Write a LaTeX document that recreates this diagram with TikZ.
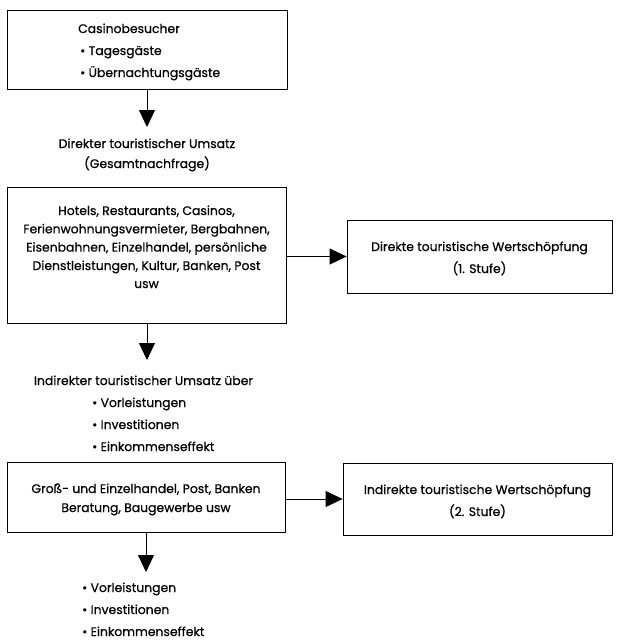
\documentclass[tikz,border=0pt]{standalone}
\usepackage{fontspec}
\setmainfont{Poppins}[FakeBold=0.6,UprightFeatures={FakeBold=0.6}]
\usetikzlibrary{arrows.meta}
\begin{document}
\begin{tikzpicture}[x=1pt,y=-1pt,
  box/.style={draw=black, line width=0.8pt, rectangle, inner sep=0pt},
  txt/.style={inner sep=0pt, font=\fontsize{12.4}{19}\selectfont},
  arr/.style={draw=black, line width=0.8pt, -{Triangle[width=16pt,length=17pt]}},
]
\useasboundingbox (0,0) rectangle (618,641);
% boxes
\node[box, minimum width=280pt, minimum height=79pt] (b1) at (147,49.5) {};
\node[box, minimum width=279pt, minimum height=136pt] (b2) at (146.5,255) {};
\node[box, minimum width=265pt, minimum height=73pt] (b3) at (479.5,256.5) {};
\node[box, minimum width=278pt, minimum height=70pt] (b4) at (146,497) {};
\node[box, minimum width=269pt, minimum height=72pt] (b5) at (477.5,499) {};
% box 1 text
\node[txt, anchor=base west] (t1a) at (78,33) {Casinobesucher};
\node[txt, anchor=base west] (t1b) at (80,55) {\textbullet\ Tagesgäste};
\node[txt, anchor=base west] (t1c) at (80,77) {\textbullet\ Übernachtungsgäste};
% label direct
\node[txt, anchor=base] (l1a) at (147,148) {Direkter touristischer Umsatz};
\node[txt, anchor=base] (l1b) at (147,168) {(Gesamtnachfrage)};
% box 2 text
\node[txt, anchor=base] (t2a) at (146.5,215) {Hotels, Restaurants, Casinos,};
\node[txt, anchor=base] (t2b) at (146.5,233.3) {Ferienwohnungsvermieter, Bergbahnen,};
\node[txt, anchor=base] (t2c) at (146.5,251.6) {Eisenbahnen, Einzelhandel, persönliche};
\node[txt, anchor=base] (t2d) at (146.5,270) {Dienstleistungen, Kultur, Banken, Post};
\node[txt, anchor=base] (t2e) at (146.5,288) {usw};
% box 3 text
\node[txt, anchor=base] (t3a) at (479.5,251) {Direkte touristische Wertschöpfung};
\node[txt, anchor=base] (t3b) at (479.5,273) {(1. Stufe)};
% indirect label
\node[txt, anchor=base] (l2a) at (143.5,385) {Indirekter touristischer Umsatz über};
\node[txt, anchor=base west] (l2b) at (92,407) {\textbullet\ Vorleistungen};
\node[txt, anchor=base west] (l2c) at (92,429) {\textbullet\ Investitionen};
\node[txt, anchor=base west] (l2d) at (92,451) {\textbullet\ Einkommenseffekt};
% box 4 text
\node[txt, anchor=base] (t4a) at (146,493) {Groß- und Einzelhandel, Post, Banken};
\node[txt, anchor=base] (t4b) at (146,512) {Beratung, Baugewerbe usw};
% box 5 text
\node[txt, anchor=base] (t5a) at (477.5,494) {Indirekte touristische Wertschöpfung};
\node[txt, anchor=base] (t5b) at (477.5,516) {(2. Stufe)};
% bottom list
\node[txt, anchor=base west] (l3a) at (82,592) {\textbullet\ Vorleistungen};
\node[txt, anchor=base west] (l3b) at (82,614) {\textbullet\ Investitionen};
\node[txt, anchor=base west] (l3c) at (82,636) {\textbullet\ Einkommenseffekt};
% arrow end points
\coordinate (e1) at (147,127);
\coordinate (e2) at (147,360);
\coordinate (e3) at (146,572);
% connectors
\draw[arr] (b1.south -| e1) -- (e1);
\draw[arr] (b2.south -| e2) -- (e2);
\draw[arr] (b4.south -| e3) -- (e3);
\draw[arr] (b2.east |- b3.west) -- (b3.west);
\draw[arr] (b4.east |- b5.west) -- (b5.west);
\end{tikzpicture}
\end{document}
